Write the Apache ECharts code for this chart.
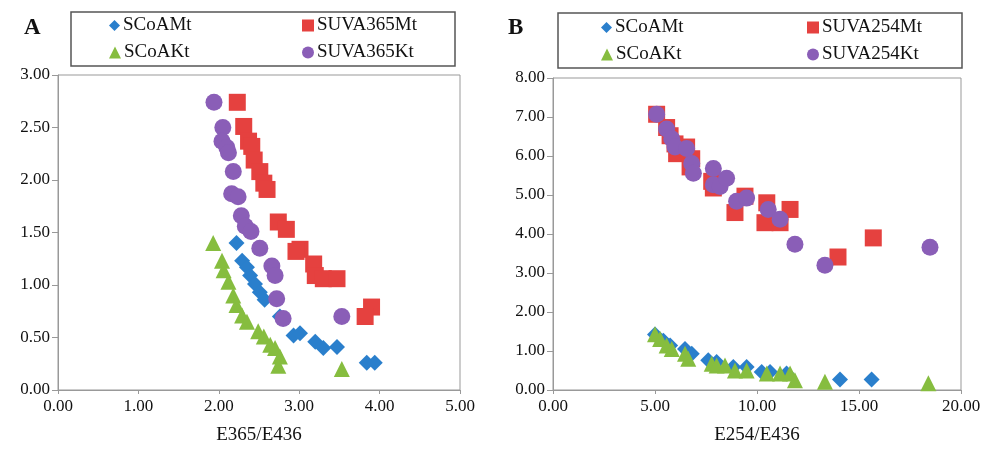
<!DOCTYPE html>
<html>
<head>
<meta charset="utf-8">
<script src="https://cdn.jsdelivr.net/npm/echarts@6/dist/echarts.min.js"></script>
<style>
  html, body { margin: 0; padding: 0; background: #fff; }
  #main { width: 986px; height: 450px; }
</style>
</head>
<body>
<div id="main"></div>
<script>
// panel A: E365/E436 vs SCoA / SUVA365
const aSCoAMt = [[2.22,1.40],[2.29,1.23],[2.35,1.17],[2.39,1.09],[2.45,1.01],[2.51,0.93],[2.57,0.86],
  [2.76,0.70],[2.93,0.52],[3.01,0.54],[3.20,0.46],[3.30,0.40],[3.47,0.41],[3.84,0.26],[3.94,0.26]]
const aSUVAMt = [[2.23,2.74],[2.31,2.51],[2.37,2.37],[2.41,2.32],[2.44,2.19],[2.51,2.08],[2.56,1.97],
  [2.60,1.91],[2.74,1.60],[2.84,1.53],[3.01,1.34],[2.96,1.32],[3.18,1.20],[3.20,1.09],[3.30,1.06],
  [3.47,1.06],[3.90,0.79],[3.82,0.70]]
const aSCoAKt = [[1.93,1.40],[2.04,1.23],[2.06,1.14],[2.12,1.03],[2.18,0.90],[2.22,0.81],[2.29,0.71],
  [2.35,0.65],[2.49,0.56],[2.56,0.51],[2.64,0.43],[2.70,0.40],[2.76,0.32],[2.74,0.23],[3.53,0.20]]
const aSUVAKt = [[1.94,2.74],[2.05,2.50],[2.04,2.37],[2.10,2.31],[2.12,2.26],[2.18,2.08],[2.16,1.87],
  [2.24,1.84],[2.28,1.66],[2.33,1.56],[2.40,1.51],[2.51,1.35],[2.66,1.18],[2.70,1.09],[2.72,0.87],
  [2.80,0.68],[3.53,0.70]]

// panel B: E254/E436 vs SCoA / SUVA254
const bSCoAMt = [[5.0,1.42],[5.41,1.26],[5.74,1.14],[6.47,1.05],[6.80,0.93],[7.61,0.76],[8.02,0.72],
  [8.84,0.59],[9.49,0.59],[10.23,0.46],[10.64,0.46],[11.45,0.42],[14.07,0.27],[15.62,0.27]]
const bSUVAMt = [[5.08,7.07],[5.57,6.73],[5.74,6.52],[5.98,6.31],[6.06,6.06],[6.55,6.23],[6.80,5.93],
  [6.72,5.72],[7.78,5.35],[7.86,5.18],[8.92,4.55],[9.41,4.97],[10.48,4.80],[10.39,4.29],[11.13,4.29],
  [11.62,4.63],[13.97,3.41],[15.70,3.90]]
const bSCoAKt = [[5.0,1.43],[5.25,1.31],[5.57,1.14],[5.82,1.05],[6.47,0.93],[6.63,0.80],[7.78,0.67],
  [8.02,0.63],[8.43,0.63],[8.92,0.50],[9.49,0.50],[10.48,0.42],[11.13,0.42],[11.62,0.42],[11.86,0.25],
  [13.33,0.21],[18.40,0.17]]
const bSUVAKt = [[5.08,7.07],[5.57,6.69],[5.82,6.44],[5.98,6.23],[6.55,6.19],[6.80,5.81],[6.88,5.56],
  [7.86,5.68],[7.86,5.26],[8.19,5.22],[8.51,5.43],[9.0,4.84],[9.49,4.92],[10.55,4.63],[11.13,4.38],
  [11.86,3.74],[13.33,3.20],[18.48,3.66]]

const font = 'Liberation Serif'
const blue = '#2a7fcc', red = '#e5413f', green = '#86bd3f', purple = '#8a5eb7'

function xAxisOf(idx, name, max, interval) {
  return {
    gridIndex: idx, type: 'value', min: 0, max: max, interval: interval,
    name: name, nameLocation: 'middle', nameGap: 36,
    nameTextStyle: { fontFamily: font, fontSize: 19, color: '#111' },
    axisLine: { lineStyle: { color: '#999' } },
    axisTick: { show: true, length: 4, lineStyle: { color: '#999' } },
    axisLabel: { fontFamily: font, fontSize: 17, color: '#111', margin: 8,
      formatter: v => v.toFixed(2) },
    splitLine: { show: false }
  }
}
function yAxisOf(idx, max, interval) {
  return {
    gridIndex: idx, type: 'value', min: 0, max: max, interval: interval,
    axisLine: { show: true, lineStyle: { color: '#999' } },
    axisTick: { show: true, length: 6, lineStyle: { color: '#999' } },
    axisLabel: { fontFamily: font, fontSize: 17, color: '#111', margin: 8,
      formatter: v => v.toFixed(2) },
    splitLine: { show: false }
  }
}
function seriesOf(name, idx, data, symbol, size, color) {
  return {
    name: name, type: 'scatter', xAxisIndex: idx, yAxisIndex: idx,
    symbol: symbol, symbolSize: size, data: data,
    itemStyle: { color: color, opacity: 1 }
  }
}
function legendOf(name, left, top, icon, size) {
  return {
    data: [{ name: name, icon: icon }], left: left, top: top,
    itemWidth: size, itemHeight: size, itemGap: 0, padding: 0,
    textStyle: { fontFamily: font, fontSize: 19, color: '#111', padding: [0, 0, 0, -2] },
    selectedMode: false
  }
}

let myChart = echarts.init(document.getElementById('main'))
myChart.setOption({
  animation: false,
  grid: [
    { left: 58, top: 75, width: 402, height: 319, show: true, borderColor: '#999', borderWidth: 1 },
    { left: 553, top: 78, width: 408, height: 317, show: true, borderColor: '#999', borderWidth: 1 }
  ],
  xAxis: [xAxisOf(0, 'E365/E436', 5, 1), xAxisOf(1, 'E254/E436', 20, 5)],
  yAxis: [yAxisOf(0, 3, 0.5), yAxisOf(1, 8, 1)],
  legend: [
    legendOf('SCoAMt', 109, 16, 'diamond', 11),
    legendOf('SUVA365Mt', 302, 16, 'rect', 12),
    legendOf('SCoAKt', 109, 43, 'triangle', 12),
    legendOf('SUVA365Kt', 302, 43, 'circle', 12),
    legendOf('SCoAMt', 601, 18, 'diamond', 11),
    legendOf('SUVA254Mt', 807, 18, 'rect', 12),
    legendOf('SCoAKt', 601, 45, 'triangle', 12),
    legendOf('SUVA254Kt', 807, 45, 'circle', 12)
  ],
  graphic: [
    { type: 'rect', shape: { x: 71, y: 12, width: 384, height: 54 },
      style: { fill: 'none', stroke: '#555', lineWidth: 1.5 } },
    { type: 'rect', shape: { x: 558, y: 13, width: 404, height: 55 },
      style: { fill: 'none', stroke: '#555', lineWidth: 1.5 } },
    { type: 'text', left: 24, top: 17,
      style: { text: 'A', font: 'bold 23px "Liberation Serif"', fill: '#111' } },
    { type: 'text', left: 508, top: 17,
      style: { text: 'B', font: 'bold 23px "Liberation Serif"', fill: '#111' } }
  ],
  series: [
    seriesOf('SCoAMt', 0, aSCoAMt, 'diamond', 16, blue),
    seriesOf('SUVA365Mt', 0, aSUVAMt, 'rect', 17, red),
    seriesOf('SCoAKt', 0, aSCoAKt, 'triangle', 16, green),
    seriesOf('SUVA365Kt', 0, aSUVAKt, 'circle', 17, purple),
    seriesOf('SCoAMt', 1, bSCoAMt, 'diamond', 16, blue),
    seriesOf('SUVA254Mt', 1, bSUVAMt, 'rect', 17, red),
    seriesOf('SCoAKt', 1, bSCoAKt, 'triangle', 16, green),
    seriesOf('SUVA254Kt', 1, bSUVAKt, 'circle', 17, purple)
  ]
})
</script>
</body>
</html>
